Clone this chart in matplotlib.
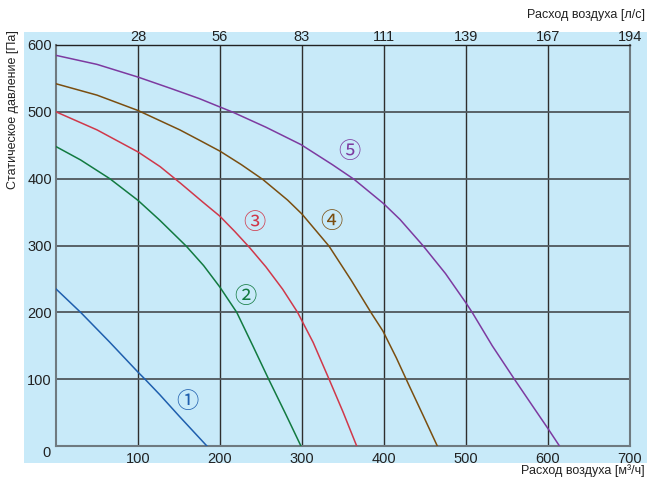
import matplotlib
matplotlib.use("Agg")
import matplotlib.pyplot as plt
from matplotlib.patches import Rectangle

plt.rcParams['font.family'] = ['Liberation Sans', 'DejaVu Sans']

# curve points: flow [m3/h], static pressure [Pa]
x1 = [0, 30, 65, 100, 108.5, 126.4, 150, 184]
y1 = [235, 200, 156, 110.5, 100, 77, 45, 0]
x2 = [0, 30, 65.6, 100, 126.4, 158.9, 180, 199.7, 220.4, 240, 259.3, 280, 298.7]
y2 = [448, 428, 400, 367.5, 338, 299, 270, 238, 200, 150, 100, 48, 0]
x3 = [0, 50, 100, 127, 152, 179, 199.7, 218, 236, 256, 276.4, 294.6, 313.6, 333, 350, 366.7]
y3 = [500, 473, 440, 418, 393, 365, 344, 321, 297, 268, 234.6, 200, 155, 100, 51, 0]
x4 = [0, 50, 100, 151, 175, 200.2, 226, 252, 282.4, 300, 333, 360, 385, 398.7, 415, 430.4, 448, 465]
y4 = [542, 525, 502, 473, 457.5, 441, 421, 399, 368, 347, 299, 248, 198, 172, 132, 91, 45, 0]
x5 = [0, 50, 100, 140, 175, 200, 215.6, 256, 298.7, 337, 363.5, 399.2, 419.5, 447.4,
      475, 500, 507.5, 532, 559, 580, 600, 614]
y5 = [584.5, 571, 552, 535, 519.7, 507.2, 499.5, 477, 451, 421, 399, 363, 339, 300,
      258, 214, 200, 150, 100, 62, 26, 0]

curves = [(x1, y1), (x2, y2), (x3, y3), (x4, y4), (x5, y5)]
colors = ['#1f5fae', '#127a40', '#d0384a', '#7a4e10', '#7d3aa0']
marks = ['\u2460', '\u2461', '\u2462', '\u2463', '\u2464']
mark_x = [160.8, 231, 242, 336.4, 358.2]
mark_y = [66, 223, 334, 336.4, 440]

flow_ticks = [100, 200, 300, 400, 500, 600, 700]
ls_labels = ['28', '56', '83', '111', '139', '167', '194']
p_ticks = [100, 200, 300, 400, 500, 600]

bg = '#c8eaf9'
txt = '#222222'

fig = plt.figure(figsize=(6.47, 4.82), dpi=100)
fig.patches.append(Rectangle((24 / 647, 1 - 463 / 482), 1 - 24 / 647, (463 - 32) / 482,
                             transform=fig.transFigure, facecolor=bg, edgecolor='none', zorder=-10))
ax = fig.add_axes([56 / 647, 1 - 446 / 482, (630 - 56) / 647, (446 - 45) / 482])
ax.set_facecolor(bg)
ax.set_xlim(0, 700)
ax.set_ylim(0, 600)

for v in flow_ticks[:-1]:
    ax.axvline(v, color='#2e2e2e', lw=1.0, zorder=1)
for v in p_ticks[:-1]:
    ax.axhline(v, color='#50575c', lw=1.3, zorder=1)

for (xs, ys), c in zip(curves, colors):
    ax.plot(xs, ys, color=c, lw=1.1, zorder=3, solid_joinstyle='round')

for m, mx, my, c in zip(marks, mark_x, mark_y, colors):
    ax.text(mx, my, m, color=c, fontsize=16, ha='center', va='center',
            family=['Noto Sans CJK SC', 'DejaVu Sans'], zorder=4)

for s in ['left', 'bottom', 'right']:
    ax.spines[s].set_color('#6f7a80')
    ax.spines[s].set_linewidth(1.5)
ax.spines['top'].set_color('#222222')
ax.spines['top'].set_linewidth(1.0)

ax.set_xticks(flow_ticks)
ax.set_xticklabels([str(v) for v in flow_ticks])
ax.set_yticks(p_ticks)
ax.tick_params(length=0, labelsize=10.5, labelcolor=txt)
ax.tick_params(axis='x', pad=4)
ax.tick_params(axis='y', pad=3)
ax.text(-12, -10, '0', fontsize=10.5, color=txt, ha='center', va='center')

top = ax.twiny()
top.set_xlim(0, 700)
top.set_xticks(flow_ticks)
top.set_xticklabels(ls_labels)
top.tick_params(length=0, labelsize=10.5, labelcolor=txt, pad=1)
for s in top.spines.values():
    s.set_visible(False)

fig.text(645 / 647, 1 - 471 / 482, 'Расход воздуха [м\u00b3/ч]', fontsize=9, color=txt,
         ha='right', va='center')
fig.text(645 / 647, 1 - 15 / 482, 'Расход воздуха [л/с]', fontsize=9, color=txt,
         ha='right', va='center')
fig.text(13 / 647, 1 - 30 / 482, 'Статическое давление [Па]', fontsize=9, color=txt,
         rotation=90, ha='center', va='top')

fig.savefig('out.png', dpi=100)
